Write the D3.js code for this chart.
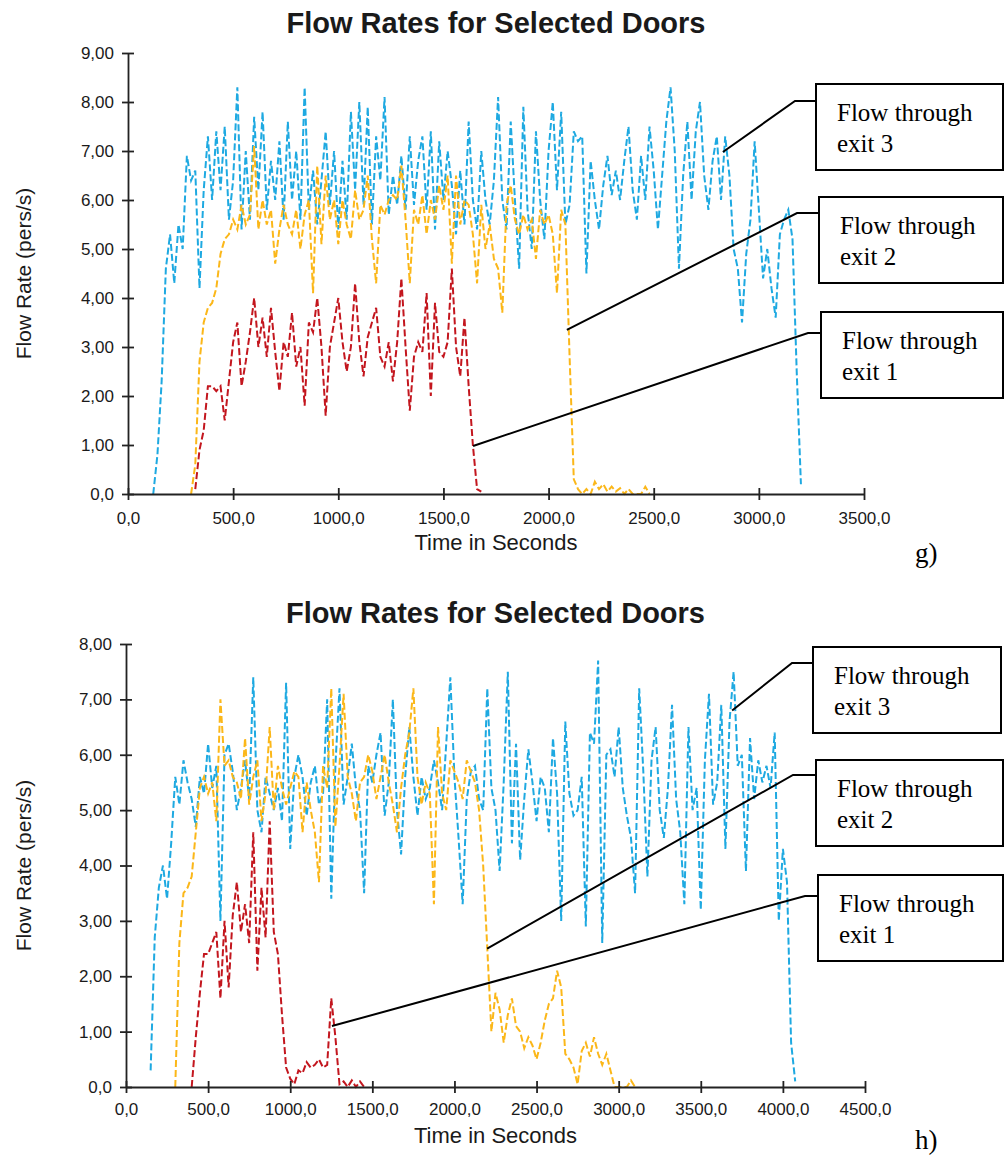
<!DOCTYPE html>
<html>
<head>
<meta charset="utf-8">
<script src="https://cdn.jsdelivr.net/npm/d3@7"></script>
<style>
  body { margin: 0; background: #fff; }
  svg text { font-family: "Liberation Sans", Arial, sans-serif; fill: #1a1a1a; }
  .note text, .tag { font-family: "Liberation Serif", "Times New Roman", serif !important; fill: #000 !important; }
</style>
</head>
<body>
<script>
// ---- chart g data (time step 20 s) ----
const gExit3Start = 120;
const gExit3 = [
  0, 0.8, 2.3, 4.6, 5.3, 4.3, 5.5, 5.0, 6.9, 6.4,
  6.6, 4.2, 6.2, 7.3, 6.0, 7.4, 6.2, 7.5, 5.6, 6.4,
  8.3, 5.4, 7.0, 5.6, 7.7, 6.2, 7.8, 5.8, 6.8, 6.0,
  7.2, 5.6, 7.6, 6.0, 7.0, 5.6, 8.3, 5.8, 6.6, 5.5,
  6.4, 7.4, 5.9, 7.0, 5.4, 6.8, 5.6, 7.8, 6.2, 8.0,
  5.9, 7.9, 5.5, 7.3, 6.4, 8.1, 5.7, 6.5, 5.9, 6.9,
  5.8, 7.3, 5.9, 6.8, 7.3, 5.8, 7.4, 5.4, 7.2, 6.0,
  7.0, 6.3, 5.3, 6.6, 5.5, 7.6, 6.0, 5.4, 7.0, 6.0,
  5.5, 6.4, 8.1, 6.0, 5.4, 7.6, 6.0, 4.6, 7.9, 5.8,
  5.0, 7.4, 6.0, 5.2, 7.0, 8.0, 6.2, 7.8, 5.5, 5.9,
  7.4, 7.2, 7.3, 4.5, 6.8, 6.0, 5.4, 6.3, 6.9, 6.1,
  6.6, 6.0, 6.8, 7.5, 6.2, 5.6, 6.9, 6.0, 7.5, 6.6,
  5.4, 6.5, 7.6, 8.3, 7.0, 4.6, 6.5, 7.6, 6.0, 7.4,
  8.0, 6.5, 5.8, 6.8, 7.3, 6.0, 7.3, 6.5, 5.0, 4.6,
  3.5, 4.9, 5.6, 7.2, 5.8, 4.4, 5.0, 4.2, 3.6, 5.3,
  5.6, 5.8, 5.2, 2.5, 0.2
];
const gExit2Start = 300;
const gExit2 = [
  0, 0.6, 2.7, 3.5, 3.8, 3.9, 4.2, 4.9, 5.2, 5.3,
  5.6, 5.4, 5.9, 5.5, 5.7, 7.1, 5.4, 6.0, 5.5, 5.8,
  4.7, 5.4, 5.9, 5.5, 5.3, 5.8, 5.0, 5.7, 6.0, 4.1,
  6.7, 5.1, 6.5, 5.6, 6.0, 5.1, 6.0, 5.5, 5.2, 6.2,
  5.6, 5.8, 6.5, 5.2, 4.3, 5.9, 5.7, 6.0, 6.1, 6.0,
  6.7, 5.6, 4.3, 5.8, 5.5, 6.1, 5.3, 6.0, 5.6, 6.3,
  5.8, 6.5, 4.7, 6.5, 5.5, 6.0, 5.9, 5.3, 4.3, 5.9,
  5.0, 5.5, 4.8, 4.6, 3.7, 5.9, 6.3, 5.6, 5.3, 5.7,
  5.4, 5.6, 4.8, 5.8, 5.5, 5.7, 5.3, 4.1, 5.8, 5.5,
  2.8, 0.3, 0.1, 0.0, 0.1, 0.0, 0.25, 0.1, 0.2, 0.05,
  0.15, 0.05, 0.12, 0.0, 0.1, 0.0, 0.0, 0.0, 0.15, 0.0
];
const gExit1Start = 320;
const gExit1 = [
  0.1, 0.9, 1.3, 2.2, 2.2, 2.1, 2.2, 1.5, 2.3, 3.1,
  3.5, 2.2, 2.7, 3.3, 4.0, 3.0, 3.6, 2.8, 3.8, 2.9,
  2.1, 3.1, 2.8, 3.7, 2.6, 3.0, 1.8, 3.5, 3.3, 4.0,
  3.0, 1.6, 3.0, 3.5, 4.0, 3.1, 2.5, 3.0, 4.3, 3.1,
  2.4, 3.2, 3.5, 3.8, 2.8, 2.6, 3.1, 2.3, 3.1, 4.4,
  3.0, 1.7, 2.8, 3.1, 2.9, 4.1, 2.0, 3.9, 2.9, 2.8,
  3.1, 4.6, 3.0, 2.4, 3.6, 2.2, 1.0, 0.1, 0.05
];
const gStep = 20;
const gXTicks = [0, 500, 1000, 1500, 2000, 2500, 3000, 3500];
const gXLabels = ["0,0", "500,0", "1000,0", "1500,0", "2000,0", "2500,0", "3000,0", "3500,0"];
const gYTicks = [0, 1, 2, 3, 4, 5, 6, 7, 8, 9];
const gYLabels = ["0,0", "1,00", "2,00", "3,00", "4,00", "5,00", "6,00", "7,00", "8,00", "9,00"];
// where the callout lines touch the curves (time, flow)
const gPointers = [[2829, 6.98], [2087, 3.35], [1641, 0.98]];

// ---- chart h data (time step 25 s) ----
const hExit3Start = 150;
const hExit3 = [
  0.3, 2.7, 3.6, 4.0, 3.4, 4.4, 5.6, 5.1, 5.9, 5.5,
  5.2, 4.7, 5.6, 5.3, 6.2, 5.4, 5.8, 3.0, 6.0, 6.2,
  5.7, 5.0, 5.4, 5.9, 5.2, 7.4, 5.0, 4.6, 5.6, 5.3,
  5.0, 5.4, 4.8, 7.3, 4.3, 5.6, 6.0, 5.6, 4.9, 5.5,
  5.8, 5.1, 5.3, 7.0, 3.4, 5.8, 7.2, 5.1, 5.6, 6.2,
  5.4, 5.0, 3.5, 5.8, 5.5, 6.0, 6.4, 4.9, 5.5, 7.0,
  5.0, 4.2, 5.6, 6.5, 5.6, 4.9, 5.6, 5.2, 5.4, 5.9,
  5.5, 5.0, 6.2, 7.4, 5.6, 4.5, 3.3, 5.2, 5.7, 5.8,
  5.2, 5.0, 7.2, 5.4, 5.0, 3.9, 5.5, 7.5, 4.4, 6.2,
  4.1, 5.2, 6.1, 5.5, 4.8, 5.6, 5.4, 4.6, 6.3, 5.3,
  3.0, 6.6, 5.3, 4.9, 5.0, 5.6, 2.9, 6.4, 6.2, 7.7,
  2.6, 6.0, 6.1, 5.6, 6.5, 5.4, 4.9, 4.5, 3.5, 7.2,
  5.7, 3.8, 5.9, 6.5, 5.0, 4.5, 5.4, 6.9, 5.2, 4.6,
  3.3, 6.5, 5.0, 5.4, 3.2, 5.9, 7.1, 5.1, 5.5, 6.9,
  4.3, 6.6, 7.5, 5.8, 6.0, 3.9, 6.3, 5.2, 5.9, 5.5,
  5.8, 5.4, 6.4, 3.0, 4.3, 3.7, 0.8, 0.1
];
const hExit2Start = 300;
const hExit2 = [
  0.0, 2.6, 3.5, 3.6, 3.8, 4.6, 5.4, 5.6, 5.3, 5.5,
  4.8, 7.0, 5.8, 5.9, 5.6, 5.5, 5.2, 6.3, 5.1, 5.6,
  5.9, 4.8, 5.3, 6.5, 5.0, 5.8, 5.4, 5.1, 5.4, 5.7,
  5.6, 4.6, 5.5, 5.0, 4.6, 3.7, 5.8, 5.4, 7.2, 4.7,
  5.8, 7.1, 5.6, 5.3, 4.8, 5.5, 5.6, 6.0, 5.7, 5.2,
  5.6, 6.0, 5.5, 5.1, 4.6, 5.4, 6.0, 6.4, 7.2, 5.6,
  5.1, 5.5, 5.3, 3.3, 6.5, 5.3, 5.0, 5.9, 5.7, 5.5,
  5.2, 5.9, 5.7, 5.5, 5.0, 4.0, 2.5, 1.0, 1.7, 1.4,
  0.8, 1.3, 1.6, 1.1, 1.0, 0.7, 0.9, 0.75, 0.5, 0.8,
  1.2, 1.5, 1.6, 2.1, 1.8, 0.6, 0.5, 0.35, 0.05, 0.65,
  0.8, 0.55, 0.9, 0.6, 0.4, 0.6, 0.3, 0.0, 0.0, 0.0,
  0.0, 0.12, 0.0
];
const hExit1Start = 400;
const hExit1 = [
  0.0, 0.9, 1.7, 2.4, 2.4, 2.6, 2.8, 1.6, 3.0, 1.8,
  3.1, 3.7, 2.8, 3.3, 2.6, 4.6, 2.1, 3.6, 2.7, 4.8,
  2.8, 2.4, 1.3, 0.35, 0.15, 0.05, 0.3, 0.25, 0.45, 0.35,
  0.4, 0.5, 0.35, 0.4, 1.6, 0.9, 0.05, 0.1, 0.0, 0.12,
  0.0, 0.1, 0.0
];
const hStep = 25;
const hXTicks = [0, 500, 1000, 1500, 2000, 2500, 3000, 3500, 4000, 4500];
const hXLabels = ["0,0", "500,0", "1000,0", "1500,0", "2000,0", "2500,0", "3000,0", "3500,0", "4000,0", "4500,0"];
const hYTicks = [0, 1, 2, 3, 4, 5, 6, 7, 8];
const hYLabels = ["0,0", "1,00", "2,00", "3,00", "4,00", "5,00", "6,00", "7,00", "8,00"];
const hPointers = [[3691, 6.8], [2199, 2.5], [1254, 1.1]];

const noteLines = [["Flow through", "exit 3"], ["Flow through", "exit 2"], ["Flow through", "exit 1"]];

const blue = '#1ea9e1';
const yellow = '#fbb719';
const red = '#c3161e';

const svg = d3.select('body').append('svg')
    .attr('width', 1008)
    .attr('height', 1155);

function drawChart(c) {
    const g = svg.append('g');
    const x = d3.scaleLinear().domain([0, c.xMax]).range([c.left, c.right]);
    const y = d3.scaleLinear().domain([0, c.yMax]).range([c.bottom, c.top]);

    g.append('text')
        .text('Flow Rates for Selected Doors')
        .attr('x', (c.left + c.right) / 2)
        .attr('y', c.titleY)
        .attr('text-anchor', 'middle')
        .style('font-size', '29px')
        .style('font-weight', 'bold');

    // series, exit 3 underneath
    const line = d3.line().x(d => x(d[0])).y(d => y(d[1]));
    c.series.forEach(s => {
        const pts = s.values.map((v, i) => [s.start + i * c.step, v]);
        g.append('path')
            .datum(pts)
            .attr('d', line)
            .attr('fill', 'none')
            .attr('stroke', s.color)
            .attr('stroke-width', 2)
            .attr('stroke-dasharray', '7,3');
    });

    const xAxis = g.append('g')
        .attr('transform', `translate(0,${c.bottom})`)
        .call(d3.axisBottom(x).tickValues(c.xTicks)
            .tickFormat((d, i) => c.xLabels[i]).tickSizeInner(6).tickSizeOuter(0));
    xAxis.selectAll('.tick line').attr('y1', -6).attr('y2', 6);
    xAxis.selectAll('.tick text').attr('y', c.xTickY);

    const yAxis = g.append('g')
        .attr('transform', `translate(${c.left},0)`)
        .call(d3.axisLeft(y).tickValues(c.yTicks)
            .tickFormat((d, i) => c.yLabels[i]).tickSizeInner(6).tickSizeOuter(0));
    yAxis.selectAll('.tick line').attr('x1', -6).attr('x2', 6);
    yAxis.selectAll('.tick text').attr('x', -14);

    [xAxis, yAxis].forEach(a => {
        a.select('.domain').attr('stroke', '#222').attr('stroke-width', 1.8);
        a.selectAll('.tick line').attr('stroke', '#222').attr('stroke-width', 1.8);
        a.selectAll('.tick text').style('font-size', '17px').attr('fill', '#1a1a1a');
    });

    g.append('text')
        .text('Time in Seconds')
        .attr('x', (c.left + c.right) / 2)
        .attr('y', c.xTitleY)
        .attr('text-anchor', 'middle')
        .style('font-size', '22px');

    g.append('text')
        .text('Flow Rate (pers/s)')
        .attr('transform', `translate(31,${(c.top + c.bottom) / 2}) rotate(-90)`)
        .attr('text-anchor', 'middle')
        .style('font-size', '21px');

    // callout boxes
    const notes = g.append('g').attr('class', 'note');
    c.boxes.forEach((b, i) => {
        const p = c.pointers[i];
        notes.append('polyline')
            .attr('points', [[b.x, b.hookY], [b.bendX, b.hookY], [x(p[0]), y(p[1])]].join(' '))
            .attr('fill', 'none')
            .attr('stroke', '#000')
            .attr('stroke-width', 2);
        notes.append('rect')
            .attr('x', b.x).attr('y', b.y)
            .attr('width', b.w).attr('height', 86)
            .attr('fill', '#fff')
            .attr('stroke', '#000')
            .attr('stroke-width', 2);
        noteLines[i].forEach((t, j) => {
            notes.append('text')
                .text(t)
                .attr('x', b.x + 21)
                .attr('y', b.y + 37 + j * 31)
                .style('font-size', '25px');
        });
    });

    g.append('text')
        .attr('class', 'tag')
        .text(c.tag)
        .attr('x', 915)
        .attr('y', c.tagY)
        .style('font-size', '27px');
}

drawChart({
    xMax: 3500, yMax: 9, left: 128, right: 864, top: 53, bottom: 494,
    titleY: 33, xTitleY: 550, xTickY: 18, tag: 'g)', tagY: 562, step: gStep,
    xTicks: gXTicks, xLabels: gXLabels, yTicks: gYTicks, yLabels: gYLabels,
    series: [
        {start: gExit3Start, values: gExit3, color: blue},
        {start: gExit2Start, values: gExit2, color: yellow},
        {start: gExit1Start, values: gExit1, color: red}
    ],
    pointers: gPointers,
    boxes: [
        {x: 816, y: 84, w: 187, hookY: 101, bendX: 795},
        {x: 819, y: 197, w: 184, hookY: 213, bendX: 797},
        {x: 821, y: 312, w: 182, hookY: 333, bendX: 808}
    ]
});

drawChart({
    xMax: 4500, yMax: 8, left: 126, right: 865, top: 644, bottom: 1087,
    titleY: 623, xTitleY: 1143, xTickY: 16, tag: 'h)', tagY: 1149, step: hStep,
    xTicks: hXTicks, xLabels: hXLabels, yTicks: hYTicks, yLabels: hYLabels,
    series: [
        {start: hExit3Start, values: hExit3, color: blue},
        {start: hExit2Start, values: hExit2, color: yellow},
        {start: hExit1Start, values: hExit1, color: red}
    ],
    pointers: hPointers,
    boxes: [
        {x: 813, y: 647, w: 188, hookY: 663, bendX: 792},
        {x: 816, y: 760, w: 187, hookY: 775, bendX: 793},
        {x: 818, y: 875, w: 185, hookY: 896, bendX: 805}
    ]
});
</script>
</body>
</html>
